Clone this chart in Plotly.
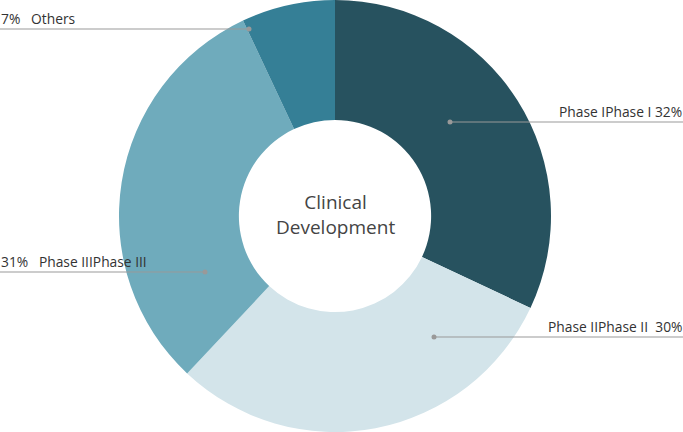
import plotly.graph_objects as go

labels = ["Phase IPhase I", "Phase IIPhase II", "Phase IIIPhase III", "Others"]
values = [32, 30, 31, 7]
colors = ["#27525f", "#d3e4ea", "#6fabbc", "#357f96"]
label_texts = ["Phase IPhase I 32%", "Phase IIPhase II  30%", "31%   Phase IIIPhase III", "7%   Others"]

W, H = 683, 432
CX = 335

fig = go.Figure(go.Pie(
    labels=labels, values=values, sort=False, direction="clockwise", rotation=0,
    hole=0.445, marker=dict(colors=colors, line=dict(width=0)),
    textinfo="none", hoverinfo="label+percent",
    domain=dict(x=[0, 2 * CX / W], y=[0, 1]),
))

# leader lines: (dot x, y, side)
leaders = [(450, 122, "right"), (434, 337, "right"), (205, 272, "left"), (249, 29, "left")]
shapes = []
annotations = []
for (dx, dy, side), txt in zip(leaders, label_texts):
    yp = 1 - dy / H
    x0 = dx / W
    x1 = 1.0 if side == "right" else 0.0
    shapes.append(dict(type="line", xref="paper", yref="paper", x0=x0, x1=x1, y0=yp, y1=yp,
                       line=dict(color="#999999", width=1)))
    shapes.append(dict(type="circle", xref="paper", yref="paper",
                       x0=(dx - 2.5) / W, x1=(dx + 2.5) / W, y0=yp - 2.5 / H, y1=yp + 2.5 / H,
                       fillcolor="#999999", line=dict(width=0)))
    annotations.append(dict(text=txt, xref="paper", yref="paper", x=x1, y=yp,
                            xanchor=side, yanchor="bottom", showarrow=False,
                            font=dict(size=13.8, color="#333333", family="Open Sans"),
                            borderpad=0, yshift=0))

annotations.append(dict(text="Clinical<br>Development", xref="paper", yref="paper",
                        x=CX / W, y=0.5, xanchor="center", yanchor="middle", showarrow=False,
                        font=dict(size=19, color="#444444", family="Open Sans"), yshift=2))

fig.update_layout(width=W, height=H, margin=dict(l=0, r=0, t=0, b=0),
                  showlegend=False, paper_bgcolor="white", plot_bgcolor="white",
                  shapes=shapes, annotations=annotations,
                  font=dict(family="Open Sans"))
fig.write_html("out.html", config={"displayModeBar": False},
               post_script="document.body.style.margin='0';document.body.style.overflow='hidden';")
